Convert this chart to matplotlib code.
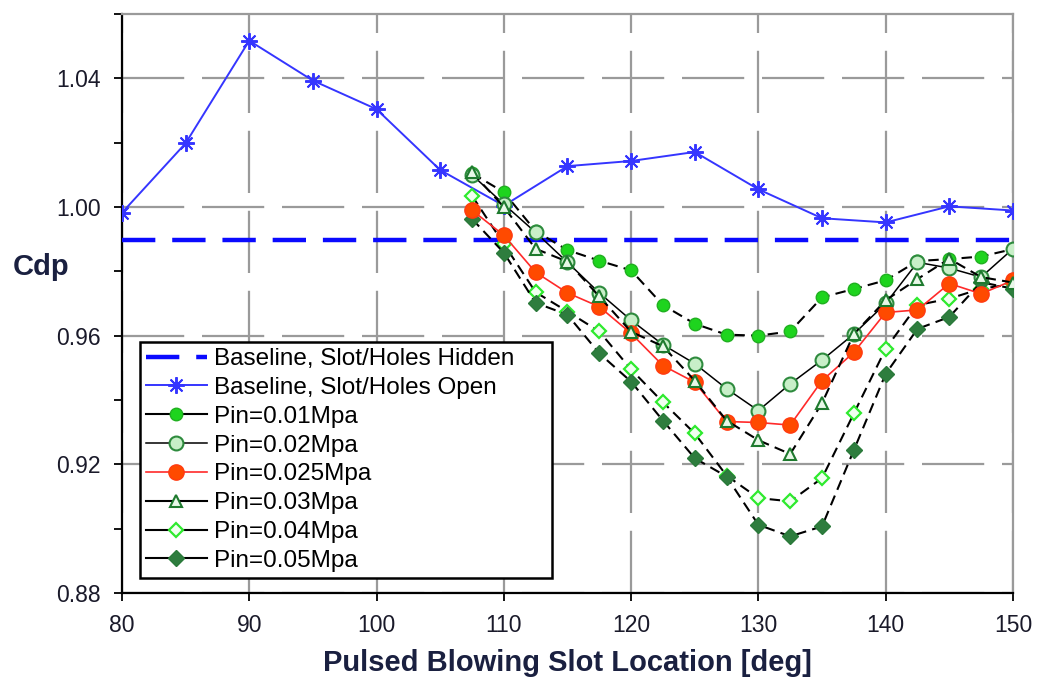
import numpy as np
import matplotlib.pyplot as plt
from matplotlib.ticker import MultipleLocator, FormatStrFormatter

plt.rcParams['font.family'] = ['Liberation Sans', 'DejaVu Sans']

# baseline, slot/holes open (every 5 deg)
x_open = [80, 85, 90, 95, 100, 105, 110, 115, 120, 125, 130, 135, 140, 145, 150]
cdp_open = [0.9982, 1.0198, 1.0517, 1.0393, 1.0304, 1.0115, 1.0004, 1.0127, 1.0143,
            1.0171, 1.0055, 0.9965, 0.9952, 1.0002, 0.9989]

# baseline, slot/holes hidden (constant)
x_hidden = [80, 150]
cdp_hidden = [0.9897, 0.9897]

# pulsed blowing runs
x_pin = [107.5, 110, 112.5, 115, 117.5, 120, 122.5, 125, 127.5, 130, 132.5, 135,
         137.5, 140, 142.5, 145, 147.5, 150]
pin_001 = [1.0105, 1.0046, 0.9925, 0.9866, 0.9833, 0.9803, 0.9695, 0.9637, 0.9603, 0.9600,
           0.9613, 0.9719, 0.9745, 0.9772, 0.9832, 0.9838, 0.9846, 0.9869]
pin_002 = [1.0100, 1.0009, 0.9921, 0.9828, 0.9733, 0.9648, 0.9572, 0.9513, 0.9435, 0.9367,
           0.9450, 0.9524, 0.9605, 0.9700, 0.9828, 0.9810, 0.9782, 0.9870]
pin_0025 = [0.9990, 0.9912, 0.9797, 0.9733, 0.9690, 0.9607, 0.9507, 0.9455, 0.9333, 0.9330,
            0.9322, 0.9460, 0.9548, 0.9672, 0.9680, 0.9762, 0.9730, 0.9772]
pin_003 = [1.0108, 1.0000, 0.9870, 0.9830, 0.9722, 0.9612, 0.9567, 0.9460, 0.9336, 0.9275,
           0.9232, 0.9390, 0.9605, 0.9710, 0.9776, 0.9839, 0.9782, 0.9765]
pin_004 = [1.0035, 0.9885, 0.9735, 0.9675, 0.9613, 0.9495, 0.9393, 0.9296, 0.9165, 0.9095,
           0.9085, 0.9157, 0.9358, 0.9559, 0.9695, 0.9715, 0.9746, 0.9760]
pin_005 = [0.9963, 0.9858, 0.9702, 0.9665, 0.9545, 0.9457, 0.9336, 0.9219, 0.9162, 0.9012,
           0.8976, 0.9007, 0.9244, 0.9481, 0.9621, 0.9658, 0.9766, 0.9746]

labels = ['Baseline, Slot/Holes Hidden', 'Baseline, Slot/Holes Open',
          'Pin=0.01Mpa', 'Pin=0.02Mpa', 'Pin=0.025Mpa', 'Pin=0.03Mpa',
          'Pin=0.04Mpa', 'Pin=0.05Mpa']

fig = plt.figure(figsize=(10.37, 6.79), dpi=100)
ax = fig.add_axes([0.1176, 0.1267, 0.8592, 0.8527])

ax.plot(x_hidden, cdp_hidden, color='#0a0aff', lw=3.2, dashes=(7.5, 3.8),
        label=labels[0], zorder=3)
ax.plot(x_open, cdp_open, color='#3535ff', lw=1.4, marker=(8, 2, 0), ms=12, mew=1.4,
        label=labels[1], zorder=4)

dash = (5, 3)
ax.plot(x_pin, pin_001, color='black', lw=1.5, dashes=dash, marker='o', ms=9,
        mfc='#1ed41e', mec='#20b020', mew=1, label=labels[2], zorder=5)
ax.plot(x_pin, pin_002, color='black', lw=1.1, marker='o', ms=10,
        mfc='#c8efc8', mec='#2e8b3e', mew=1.5, label=labels[3], zorder=5)
ax.plot(x_pin, pin_0025, color='#ff2a2a', lw=1.2, marker='o', ms=11,
        mfc='#ff4a00', mec='#ff3a10', mew=1, label=labels[4], zorder=6)
ax.plot(x_pin, pin_003, color='black', lw=1.5, dashes=dash, marker='^', ms=8,
        mfc='#e8f8e8', mec='#1e7a2e', mew=1.5, label=labels[5], zorder=6)
ax.plot(x_pin, pin_004, color='black', lw=1.5, dashes=dash, marker='D', ms=7,
        mfc='#f0fff0', mec='#2eea2e', mew=1.6, label=labels[6], zorder=5)
ax.plot(x_pin, pin_005, color='black', lw=1.5, dashes=dash, marker='D', ms=8,
        mfc='#2e7d3e', mec='#2a7a3a', mew=1, label=labels[7], zorder=5)

ax.set_xlim(80, 150)
ax.set_ylim(0.88, 1.06)
ax.xaxis.set_major_locator(MultipleLocator(10))
ax.yaxis.set_major_locator(MultipleLocator(0.04))
ax.yaxis.set_minor_locator(MultipleLocator(0.02))
ax.yaxis.set_major_formatter(FormatStrFormatter('%.2f'))
ax.tick_params(which='both', direction='out', length=6, width=1.3, color='black',
               labelsize=16.5, labelcolor='#1a1a2a', pad=9)

ax.grid(True, which='major', color='#9a9a9a', lw=1.6, linestyle=(0, (28, 8)), zorder=0)
ax.set_axisbelow(True)

for side in ['top', 'right']:
    ax.spines[side].set_color('#9a9a9a')
    ax.spines[side].set_linewidth(1.6)
for side in ['left', 'bottom']:
    ax.spines[side].set_color('black')
    ax.spines[side].set_linewidth(1.6)

ax.set_xlabel('Pulsed Blowing Slot Location [deg]', fontsize=21, fontweight='bold',
              color='#1a2040', labelpad=9)
fig.text(0.012, 1 - 267 / 679, 'Cdp', fontsize=21, fontweight='bold',
         color='#1a2040', va='center', ha='left')

leg = ax.legend(loc='lower left', bbox_to_anchor=(0.0202, 0.0259, 0.4624, 0.4),
                mode='expand', borderaxespad=0, borderpad=0.25, labelspacing=0.28,
                handlelength=2.5, handletextpad=0.3, fontsize=17.5, fancybox=False,
                edgecolor='black', framealpha=1)
leg.get_frame().set_linewidth(1.8)
leg.set_zorder(10)
for h in leg.legend_handles[2:]:
    h.set_linestyle('-')

fig.savefig('out.png', dpi=100)
